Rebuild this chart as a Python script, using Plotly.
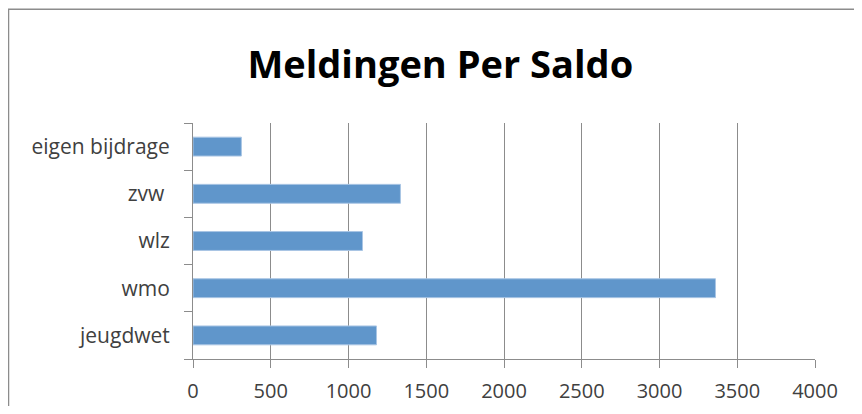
import plotly.graph_objects as go

# Gegevens
categorieen = ["jeugdwet", "wmo", "wlz", "zvw ", "eigen bijdrage"]
aantallen = [1180, 3360, 1090, 1334, 311]
x_ticks = [0, 500, 1000, 1500, 2000, 2500, 3000, 3500, 4000]

BALK_KLEUR = "#6096CB"
RAND_KLEUR = "#A9C5E4"
GRIJS = "#8C8C8C"
LETTER = "Open Sans, Lato, sans-serif"

fig = go.Figure(
    go.Bar(
        x=aantallen,
        y=categorieen,
        orientation="h",
        marker_color=BALK_KLEUR,
        marker_line_color=RAND_KLEUR,
        marker_line_width=1,
    )
)

# de pagina heeft 8px marge: figuur iets kleiner zodat alles binnen het venster past
fig.update_layout(
    width=846,
    height=398,
    margin={"l": 185, "r": 39, "t": 115, "b": 47},
    paper_bgcolor="white",
    plot_bgcolor="white",
    showlegend=False,
    bargap=0.6,
    font={"family": LETTER, "size": 21, "color": "#404040"},
    title={
        "text": "<b>Meldingen Per Saldo</b>",
        "x": 0.511,
        "xanchor": "center",
        "y": 0.857,
        "yanchor": "middle",
        "font": {"family": LETTER, "size": 38, "color": "black"},
    },
    shapes=[
        # rand van het grafiekgebied
        dict(
            type="rect",
            xref="paper",
            yref="paper",
            x0=-0.2966,
            x1=2,
            y0=-1,
            y1=1.482,
            line={"color": GRIJS, "width": 1.5},
            fillcolor="rgba(0,0,0,0)",
            layer="below",
        )
    ],
)

fig.update_xaxes(
    range=[0, 4000],
    tickvals=x_ticks,
    showgrid=True,
    gridcolor=GRIJS,
    gridwidth=1,
    zeroline=False,
    showline=True,
    linecolor=GRIJS,
    linewidth=1,
    ticks="outside",
    ticklen=8,
    tickcolor=GRIJS,
    ticklabelstandoff=6,
    tickfont={"size": 20},
    automargin=False,
)

fig.update_yaxes(
    showgrid=False,
    showline=True,
    linecolor=GRIJS,
    linewidth=1,
    ticks="outside",
    ticklen=8,
    tickcolor=GRIJS,
    tickson="boundaries",
    ticklabelstandoff=18,
    automargin=False,
)

fig.write_html("out.html")
